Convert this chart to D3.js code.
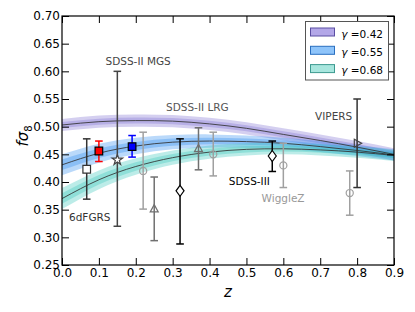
<!DOCTYPE html>
<html>
<head>
<meta charset="utf-8">
<script src="https://cdn.jsdelivr.net/npm/d3@7"></script>
<style>
  body { margin: 0; background: #fff; }
  text { font-family: "DejaVu Sans", sans-serif; }
</style>
</head>
<body>
<svg id="chart" width="415" height="312"></svg>
<script>
// model curves
var zGrid = [0, 0.1, 0.2, 0.3, 0.4, 0.5, 0.6, 0.7, 0.8, 0.9];
var gamma042 = [0.503, 0.509, 0.511, 0.510, 0.505, 0.497, 0.486, 0.475, 0.463, 0.450];
var gamma055 = [0.431, 0.452, 0.465, 0.472, 0.474, 0.473, 0.470, 0.464, 0.457, 0.449];
var gamma068 = [0.370, 0.404, 0.428, 0.444, 0.454, 0.459, 0.460, 0.458, 0.454, 0.448];
var spread042 = [0.011, 0.011, 0.011, 0.011, 0.011, 0.011, 0.011, 0.011, 0.011, 0.011];
var spread055 = [0.019, 0.017, 0.015, 0.013, 0.012, 0.011, 0.010, 0.010, 0.010, 0.010];
var spread068 = [0.019, 0.017, 0.015, 0.013, 0.012, 0.011, 0.010, 0.010, 0.010, 0.010];
var gammaLabels = ["0.42", "0.55", "0.68"];

// measurements
var obsName = ["6dF", "red", "MGS", "blue", "WigZ", "tri", "BOSS", "tri", "WigZ", "BOSS", "WigZ", "WigZ", "VIPERS"];
var obsZ    = [0.067, 0.10, 0.15, 0.19, 0.22, 0.25, 0.32, 0.37, 0.41, 0.57, 0.60, 0.78, 0.80];
var obsF    = [0.423, 0.456, 0.440, 0.464, 0.420, 0.351, 0.384, 0.460, 0.450, 0.447, 0.430, 0.380, 0.470];
var obsLo   = [0.369, 0.437, 0.320, 0.445, 0.351, 0.294, 0.288, 0.422, 0.411, 0.419, 0.390, 0.340, 0.390];
var obsHi   = [0.478, 0.474, 0.600, 0.484, 0.490, 0.409, 0.478, 0.498, 0.490, 0.474, 0.470, 0.420, 0.550];

var xTicks = [0, 0.1, 0.2, 0.3, 0.4, 0.5, 0.6, 0.7, 0.8, 0.9];
var yTicks = [0.25, 0.30, 0.35, 0.40, 0.45, 0.50, 0.55, 0.60, 0.65, 0.70];

var surveyLabels = [
  {text: "SDSS-II MGS", x: 0.118, y: 0.611, color: "#444"},
  {text: "SDSS-II LRG", x: 0.282, y: 0.528, color: "#555"},
  {text: "6dFGRS", x: 0.019, y: 0.330, color: "#333"},
  {text: "SDSS-III", x: 0.452, y: 0.395, color: "#000"},
  {text: "WiggleZ", x: 0.541, y: 0.363, color: "#999"},
  {text: "VIPERS", x: 0.686, y: 0.512, color: "#444"}
];

var style = {
  "6dF":   {shape: "square", stroke: "#333", fill: "#fff", err: "#333"},
  "red":   {shape: "square", stroke: "#000", fill: "#f00", err: "#f00"},
  "MGS":   {shape: "star", stroke: "#444", fill: "#fff", err: "#444"},
  "blue":  {shape: "square", stroke: "#000", fill: "#00f", err: "#00f"},
  "WigZ":  {shape: "circle", stroke: "#a0a0a0", fill: "none", err: "#a0a0a0"},
  "tri":   {shape: "triangle", stroke: "#707070", fill: "none", err: "#707070"},
  "BOSS":  {shape: "diamond", stroke: "#000", fill: "#fff", err: "#000"},
  "VIPERS":{shape: "right", stroke: "#444", fill: "none", err: "#333"}
};

var bandColors = ["#7d6dd2", "#2d8cf0", "#35c6b8"];
var patchFill = ["#b3a7e8", "#8ec4fa", "#a8e6de"];
var patchEdge = ["#5b4ea3", "#2a6fc0", "#3c9a90"];

var svg = d3.select("#chart"),
    padL = 62, padR = 394, padT = 16, padB = 265;

var x = d3.scaleLinear().domain([0, 0.9]).range([padL, padR]);
var y = d3.scaleLinear().domain([0.25, 0.70]).range([padB, padT]);

svg.append("defs").append("clipPath").attr("id", "clip")
  .append("rect").attr("x", padL).attr("y", padT)
  .attr("width", padR - padL).attr("height", padB - padT);

var plot = svg.append("g").attr("clip-path", "url(#clip)");

// bands
[[gamma042, spread042], [gamma055, spread055], [gamma068, spread068]].forEach(function(m, i) {
  var vals = m[0], sp = m[1];
  [1, 0.5].forEach(function(k) {
    var area = d3.area()
      .x(function(d, j) { return x(zGrid[j]); })
      .y0(function(d, j) { return y(vals[j] - sp[j] * k); })
      .y1(function(d, j) { return y(vals[j] + sp[j] * k); })
      .curve(d3.curveNatural);
    plot.append("path").datum(vals)
      .attr("d", area)
      .attr("fill", bandColors[i])
      .attr("fill-opacity", 0.33);
  });
});

[gamma042, gamma055, gamma068].forEach(function(vals) {
  var line = d3.line()
    .x(function(d, j) { return x(zGrid[j]); })
    .y(function(d) { return y(d); })
    .curve(d3.curveNatural);
  plot.append("path").datum(vals)
    .attr("d", line)
    .attr("fill", "none")
    .attr("stroke", "#333")
    .attr("stroke-opacity", 0.85)
    .attr("stroke-width", 1);
});

// error bars and markers
function markerPath(shape) {
  switch (shape) {
    case "square": return "M-3.8,-3.8H3.8V3.8H-3.8Z";
    case "diamond": return "M0,-5.5L4,0L0,5.5L-4,0Z";
    case "circle": return d3.symbol(d3.symbolCircle, 40)();
    case "triangle": return "M0,-4.5L4,2.8L-4,2.8Z";
    case "right": return "M4.5,0L-2.8,-4L-2.8,4Z";
    case "star": return d3.symbol(d3.symbolStar, 34)();
  }
}

var obs = svg.append("g").selectAll("g")
  .data(obsZ.map(function(z, i) { return i; }))
  .join("g")
  .attr("transform", function(i) { return "translate(" + x(obsZ[i]) + ",0)"; });

obs.each(function(i) {
  var g = d3.select(this), s = style[obsName[i]];
  g.append("line").attr("y1", y(obsLo[i])).attr("y2", y(obsHi[i]))
    .attr("stroke", s.err).attr("stroke-width", 1.5);
  [obsLo[i], obsHi[i]].forEach(function(v) {
    g.append("line").attr("x1", -3.8).attr("x2", 3.8)
      .attr("y1", y(v)).attr("y2", y(v))
      .attr("stroke", s.err).attr("stroke-width", 1.5);
  });
  g.append("path")
    .attr("d", markerPath(s.shape))
    .attr("transform", "translate(0," + y(obsF[i]) + ")")
    .attr("fill", s.fill)
    .attr("stroke", s.stroke)
    .attr("stroke-width", 1.2);
});

// survey labels
svg.append("g").selectAll("text")
  .data(surveyLabels)
  .join("text")
  .attr("x", function(d) { return x(d.x); })
  .attr("y", function(d) { return y(d.y); })
  .attr("fill", function(d) { return d.color; })
  .attr("font-size", 10.5)
  .text(function(d) { return d.text; });

// axes with inward ticks
var fmt = d3.format(".1f"), fmt2 = d3.format(".2f");
svg.append("g").attr("transform", "translate(0," + padB + ")")
  .call(d3.axisBottom(x).tickValues(xTicks).tickFormat(fmt).tickSizeInner(-7).tickSizeOuter(0).tickPadding(3));
svg.append("g").attr("transform", "translate(0," + padT + ")")
  .call(d3.axisTop(x).tickValues(xTicks).tickFormat("").tickSizeInner(-7).tickSizeOuter(0));
svg.append("g").attr("transform", "translate(" + padL + ",0)")
  .call(d3.axisLeft(y).tickValues(yTicks).tickFormat(fmt2).tickSizeInner(-7).tickSizeOuter(0).tickPadding(2));
svg.append("g").attr("transform", "translate(" + padR + ",0)")
  .call(d3.axisRight(y).tickValues(yTicks).tickFormat("").tickSizeInner(-7).tickSizeOuter(0));

svg.selectAll(".tick text").attr("font-family", "DejaVu Sans").attr("font-size", 12).attr("fill", "#000");
svg.selectAll(".tick line").attr("stroke", "#000");
svg.selectAll(".domain").remove();

svg.append("rect").attr("x", padL).attr("y", padT)
  .attr("width", padR - padL).attr("height", padB - padT)
  .attr("fill", "none").attr("stroke", "#000").attr("stroke-width", 1.2);

// axis titles
svg.append("text")
  .attr("x", (padL + padR) / 2).attr("y", 297)
  .attr("text-anchor", "middle")
  .attr("font-size", 15).attr("font-style", "italic")
  .text("z");

var yl = svg.append("text")
  .attr("transform", "translate(28,136) rotate(-90)")
  .attr("text-anchor", "middle")
  .attr("font-size", 15);
yl.append("tspan").attr("font-style", "italic").text("fσ");
yl.append("tspan").attr("font-size", 10).attr("dy", 4).text("8");

// legend
var lg = svg.append("g");
lg.append("rect").attr("x", 305.5).attr("y", 21.5).attr("width", 83).attr("height", 58.5)
  .attr("fill", "#fff").attr("stroke", "#555").attr("stroke-width", 1);
gammaLabels.forEach(function(g, i) {
  var yy = 28 + i * 18.3;
  lg.append("rect").attr("x", 310.5).attr("y", yy).attr("width", 24).attr("height", 8)
    .attr("fill", patchFill[i]).attr("stroke", patchEdge[i]).attr("stroke-width", 1);
  var t = lg.append("text").attr("x", 383).attr("y", yy + 9.7)
    .attr("text-anchor", "end").attr("font-size", 10.5);
  t.append("tspan").attr("font-style", "italic").text("γ");
  t.append("tspan").text(" =" + g);
});
</script>
</body>
</html>
